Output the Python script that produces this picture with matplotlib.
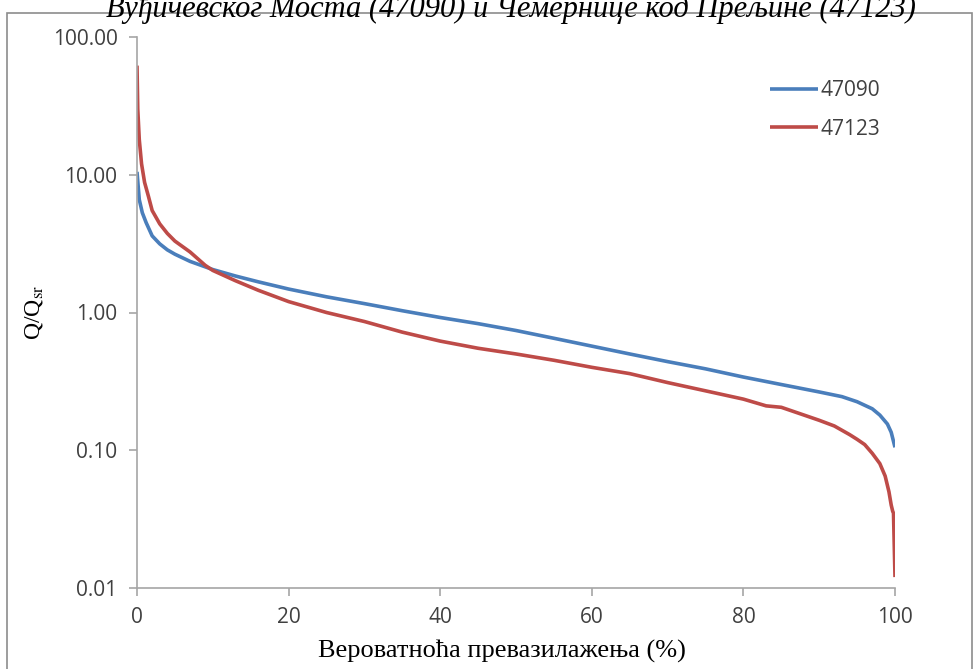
import matplotlib.pyplot as plt
from matplotlib.patches import Rectangle
from matplotlib.ticker import FixedLocator, FuncFormatter, NullLocator

plt.rcParams["mathtext.fontset"] = "stix"

# flow duration curves, discharge relative to mean discharge
p_47090 = [0, 0.3, 0.7, 1.2, 2, 3, 4, 5, 7, 10, 13, 16, 20, 25, 30, 35, 40, 45,
           50, 55, 60, 65, 70, 75, 80, 85, 90, 93, 95, 97, 98, 99, 99.5, 100]
q_47090 = [10.5, 6.6, 5.3, 4.5, 3.6, 3.15, 2.85, 2.65, 2.35, 2.05, 1.84, 1.67, 1.48,
           1.3, 1.16, 1.03, 0.92, 0.83, 0.74, 0.65, 0.57, 0.5, 0.44, 0.39, 0.34,
           0.3, 0.265, 0.245, 0.225, 0.2, 0.18, 0.155, 0.135, 0.105]

p_47123 = [0, 0.1, 0.3, 0.6, 1, 1.5, 2, 3, 4, 5, 7, 9, 10, 13, 16, 20, 25, 30, 35,
           40, 45, 50, 55, 60, 65, 70, 75, 80, 83, 85, 88, 90, 92, 94, 95, 96, 97,
           98, 98.7, 99.2, 99.5, 99.7, 99.8, 100]
q_47123 = [62, 30, 18, 12, 8.8, 7.0, 5.5, 4.4, 3.75, 3.3, 2.75, 2.2, 2.02, 1.7,
           1.45, 1.2, 1.0, 0.86, 0.72, 0.62, 0.55, 0.5, 0.45, 0.4, 0.36, 0.31,
           0.27, 0.235, 0.21, 0.205, 0.18, 0.165, 0.15, 0.13, 0.12, 0.11, 0.095,
           0.08, 0.065, 0.05, 0.04, 0.036, 0.035, 0.012]

yticks = [0.01, 0.1, 1, 10, 100]
xticks = [0, 20, 40, 60, 80, 100]

title = "Вуђичевског Моста (47090) и Чемернице код Прељине (47123)"

grey = "#a6a6a6"
text_col = "#404040"

fig = plt.figure(figsize=(9.76, 6.69), dpi=100)
ax = fig.add_axes([137 / 976, 1 - 588 / 669, (895 - 137) / 976, (588 - 37) / 669])

# outer frame of the chart area
fig.patches.append(Rectangle((7 / 976, -0.05), 965 / 976, 1.05 - 13 / 669,
                             transform=fig.transFigure, fill=False,
                             edgecolor="#8c8c8c", linewidth=1.2))

fig.text(0.523, 1 - 17 / 669, title, ha="center", va="baseline",
         family="Liberation Serif", style="italic", fontsize=22, color="black")

ax.plot(p_47090, q_47090, color="#4a7ebb", lw=2.6, label="47090", solid_capstyle="butt")
ax.plot(p_47123, q_47123, color="#be4b48", lw=2.6, label="47123", solid_capstyle="butt")

ax.set_yscale("log")
ax.set_ylim(0.01, 100)
ax.set_xlim(0, 100)
ax.yaxis.set_major_locator(FixedLocator(yticks))
ax.yaxis.set_minor_locator(NullLocator())
ax.yaxis.set_major_formatter(FuncFormatter(lambda v, _: f"{v:.2f}"))
ax.set_xticks(xticks)

for s in ["top", "right"]:
    ax.spines[s].set_visible(False)
for s in ["left", "bottom"]:
    ax.spines[s].set_color(grey)
    ax.spines[s].set_linewidth(1.2)

ax.tick_params(axis="both", direction="out", length=6, width=1.2, color=grey,
               labelsize=15, labelcolor=text_col, pad=8)
for lbl in ax.get_xticklabels() + ax.get_yticklabels():
    lbl.set_family("Open Sans")

ax.set_xlabel("Вероватноћа превазилажења (%)", family="Liberation Serif",
              fontsize=19)
ax.xaxis.set_label_coords(0.4815, -0.095)
ax.set_ylabel(r"Q/Q$_{\mathrm{sr}}$", family="Liberation Serif", fontsize=17)
ax.yaxis.set_label_coords(-0.121, 0.5)

leg = ax.legend(loc="upper left", bbox_to_anchor=(0.81, 0.956), frameon=False,
                handlelength=2.3, handletextpad=0.15, labelspacing=0.85,
                prop={"family": "Open Sans", "size": 15})
for t in leg.get_texts():
    t.set_color(text_col)

fig.savefig("out.png", dpi=100)
